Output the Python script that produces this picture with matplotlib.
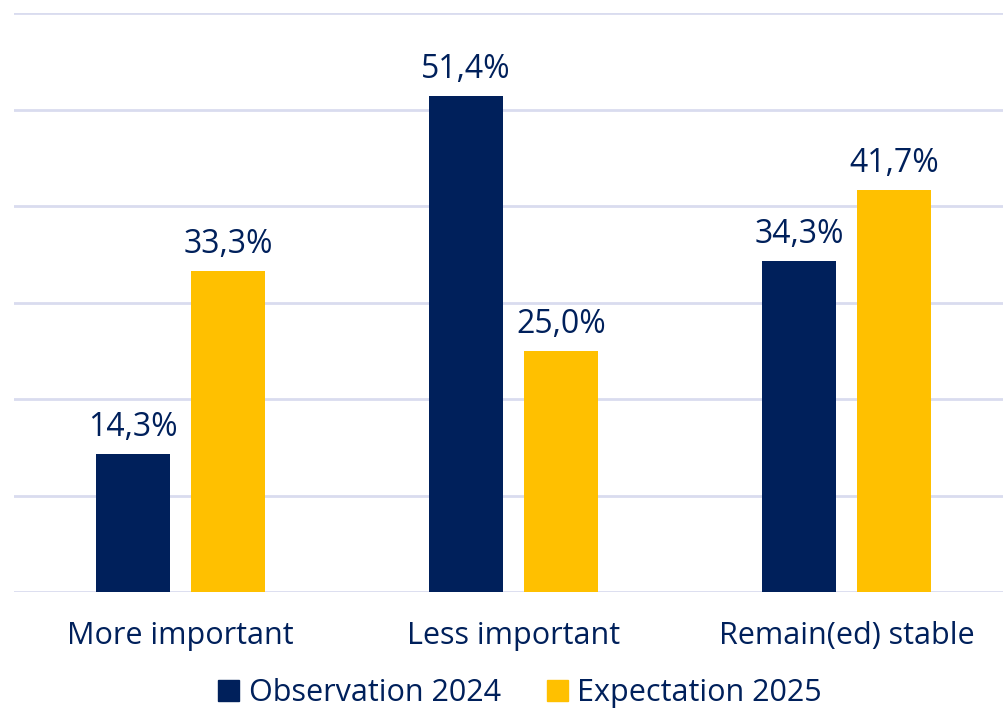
import numpy as np
import matplotlib.pyplot as plt
from matplotlib.patches import Patch

categories = ["More important", "Less important", "Remain(ed) stable"]
obs_2024 = [14.3, 51.4, 34.3]
exp_2025 = [33.3, 25.0, 41.7]
series_names = ["Observation 2024", "Expectation 2025"]

navy = "#00205B"
gold = "#FFC000"
grid_col = "#D9DCEF"

plt.rcParams['font.family'] = ['Open Sans', 'DejaVu Sans']
fs = 22

fig = plt.figure(figsize=(10.04, 7.12), dpi=100)
ax = fig.add_axes([14/1004, 1 - 592/712, 999/1004, 579/712])

x = np.arange(len(categories))
w = 0.222
off = 0.143
b1 = ax.bar(x - off, obs_2024, w, color=navy, zorder=3)
b2 = ax.bar(x + off, exp_2025, w, color=gold, zorder=3)

for bars, vals in ((b1, obs_2024), (b2, exp_2025)):
    for r, v in zip(bars, vals):
        ax.annotate(f"{v:.1f}%".replace(".", ","), (r.get_x() + r.get_width()/2, v),
                    xytext=(0, 7), textcoords="offset points", ha="center", va="bottom",
                    fontsize=23, color=navy)

ax.set_xlim(-0.5, 2.5)
ax.set_ylim(0, 60)
ax.set_yticks(np.arange(0, 61, 10))
ax.yaxis.grid(True, color=grid_col, linewidth=2, zorder=0)
ax.tick_params(axis="y", left=False, labelleft=False)
ax.tick_params(axis="x", length=0, pad=21, labelsize=fs, labelcolor=navy)
ax.set_xticks(x)
ax.set_xticklabels(categories)
for s in ax.spines.values():
    s.set_visible(False)

handles = [Patch(color=navy), Patch(color=gold)]
fig.legend(handles, series_names, loc="center", bbox_to_anchor=(520/1004, 1 - 693/712),
           ncol=2, frameon=False, fontsize=fs, labelcolor=navy, handlelength=0.7,
           handleheight=0.7, handletextpad=0.3, columnspacing=1.5)

fig.savefig("out.png", dpi=100)
